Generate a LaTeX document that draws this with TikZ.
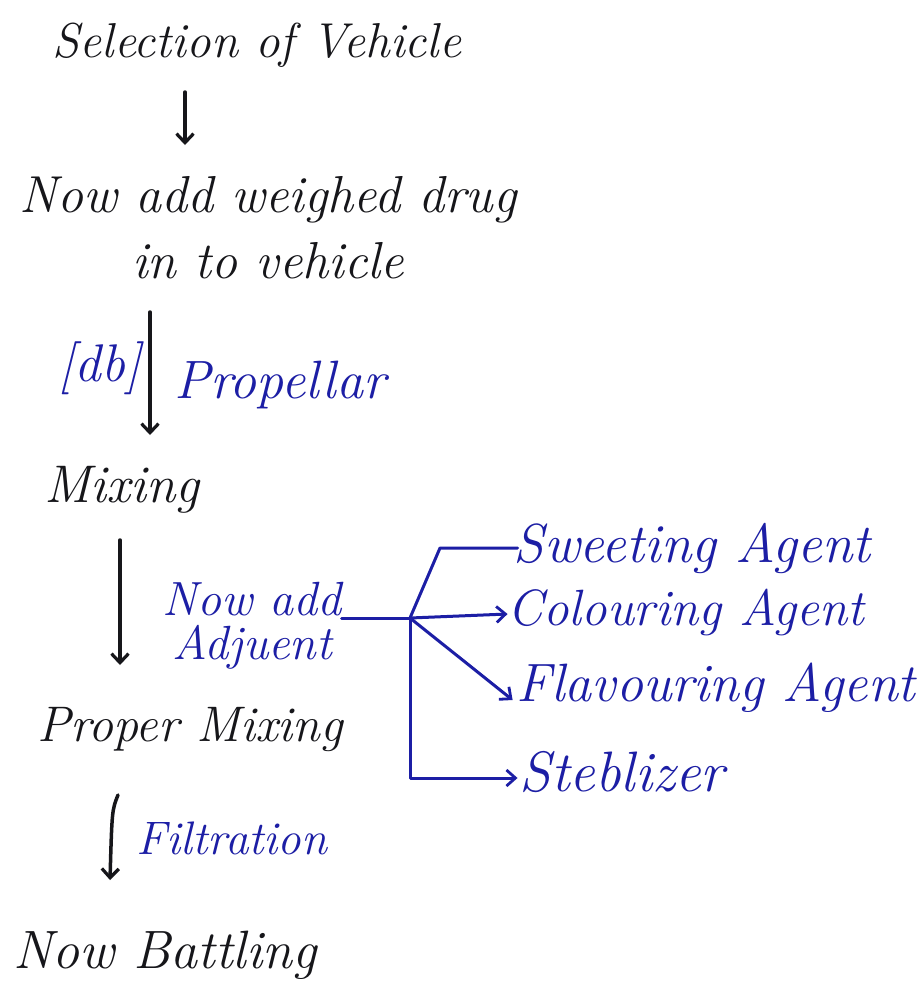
\documentclass[tikz,border=0pt]{standalone}
\usepackage{fontspec}
\usetikzlibrary{arrows.meta,calc}
\definecolor{inkblack}{RGB}{22,22,26}
\definecolor{inkblue}{RGB}{28,30,165}
\tikzset{
  blk/.style={inner sep=0pt, text=inkblack, font=\fontsize{#1}{#1}\selectfont\itshape},
  blk/.default=50,
  blu/.style={inner sep=0pt, text=inkblue, font=\fontsize{#1}{#1}\selectfont\itshape},
  blu/.default=52,
  arr/.style={draw=inkblack, line width=3.5pt, line cap=round, -{Straight Barb[length=9pt,width=17pt,line width=3.2pt]}},
  barr/.style={draw=inkblue, line width=3pt, line cap=round, line join=round, -{Straight Barb[length=9pt,width=16pt,line width=2.8pt]}},
  bline/.style={draw=inkblue, line width=3pt, line cap=round, line join=round}
}
\begin{document}
\begin{tikzpicture}[x=1pt,y=-1pt]
\useasboundingbox[fill=white] (0,0) rectangle (922,996);
% main column
\node[blk=49] (sel) at (257,45) {Selection of Vehicle};
\node[blk=52, align=center, font=\fontsize{52}{66}\selectfont\itshape] (drug) at (268,228) {Now add weighed drug\\in to vehicle};
\node[blu=53] (db) at (100,368) {[db]};
\node[blu=54] (prop) at (280,385) {Propellar};
\node[blk=53] (mix) at (122,490) {Mixing};
\node[blu=48, align=center, font=\fontsize{48}{44}\selectfont\itshape] (adj) at (252,626) {Now add\\Adjuent};
\node[blk=50] (pmix) at (190,730) {Proper Mixing};
\node[blu=47] (filt) at (232,838) {Filtration};
\node[blk=54] (bot) at (165,955) {Now Battling};
% branches
\node[blu=55] (sweet) at (692,548) {Sweeting Agent};
\node[blu=51] (colour) at (686,612) {Colouring Agent};
\node[blu=54] (flav) at (716,688) {Flavouring Agent};
\node[blu=57] (steb) at (622,772) {Steblizer};
% helper coordinates
\coordinate (x1) at (185,0);
\coordinate (x2) at (150,0);
\coordinate (x3) at (120,0);
\coordinate (x4) at (110,0);
\coordinate (J) at (410,618);
\coordinate (Jup) at (440,548);
\coordinate (Jdn) at (410,778);
% main arrows
\draw[arr] ([yshift=-47pt]sel.center -| x1) -- ([yshift=83pt]drug.center -| x1);
\draw[arr] ([yshift=-84pt]drug.center -| x2) -- ([yshift=55pt]mix.center -| x2);
\draw[arr] ([yshift=-50pt]mix.center -| x3) -- ([yshift=65pt]pmix.center -| x3);
\draw[arr] ([xshift=8pt,yshift=-65pt]pmix.center -| x4) .. controls ([xshift=2pt,yshift=-80pt]pmix.center -| x4) .. ([yshift=75pt]bot.center -| x4);
% adjuvant branches
\draw[bline] (adj.east |- J) -- (J);
\draw[bline] (J) -- (Jup) -- ([xshift=4pt]sweet.west |- Jup);
\draw[barr] (J) -- ([yshift=-2pt]colour.west);
\draw[barr] (J) -- ([xshift=-4pt,yshift=-12pt]flav.west);
\draw[barr] (J) -- (Jdn) -- ([xshift=-2pt]steb.west |- Jdn);
\end{tikzpicture}
\end{document}
